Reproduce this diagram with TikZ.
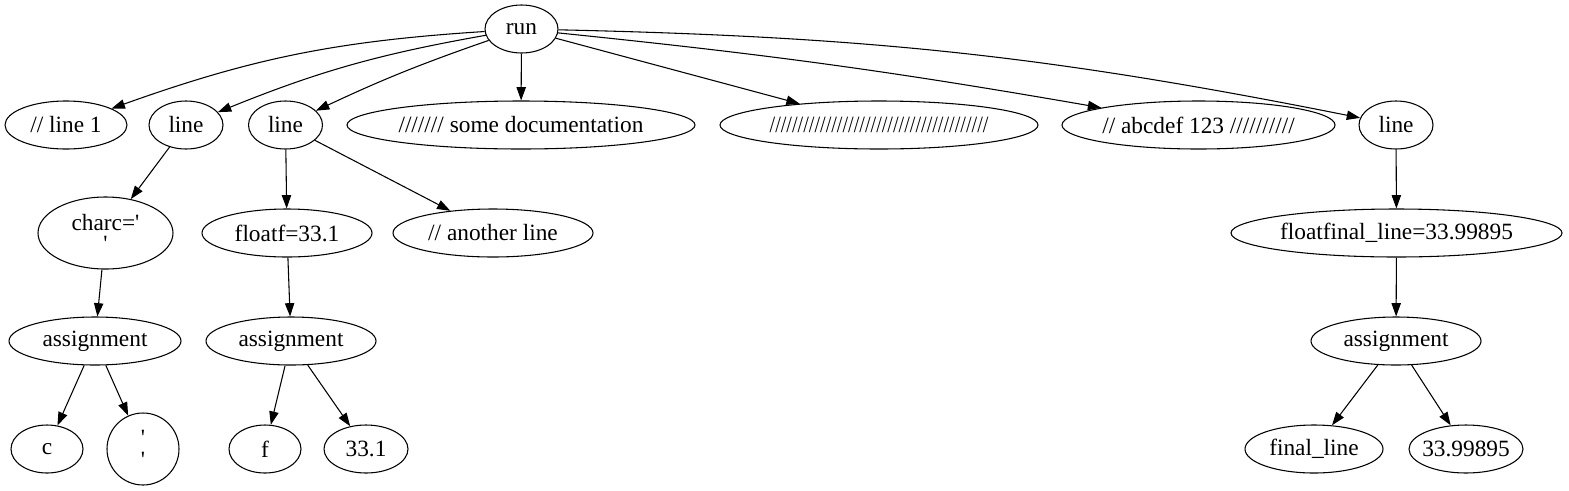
\documentclass[tikz,border=0pt]{standalone}
\usepackage{fontspec}
\usepackage{graphicx}
\newfontfamily\gvfont{Liberation Serif}
\usetikzlibrary{shapes.geometric,arrows.meta}
\tikzset{
  gv/.style={draw, ellipse, inner sep=0pt, line width=0.8pt},
  lbl/.style={font=\gvfont\fontsize{17.5}{16}\selectfont, align=center, inner sep=0pt},
  edge/.style={draw, line width=0.8pt, -{Triangle[length=10pt,width=7pt]}},
}
\newcommand\gvn[6]{\node[gv, minimum width=#4*1.5pt, minimum height=#5*1.5pt, label={[lbl]center:#6}] (#1) at (#2,#3) {};}
\begin{document}
\begin{tikzpicture}[x=0.75pt,y=-0.75pt]
\useasboundingbox (0,0) rectangle (1569,490);
\gvn{run}{521.5}{29}{36.5}{24}{run}
\gvn{lc}{66}{125}{61}{24}{// line 1}
\gvn{la}{186}{125}{37}{24}{line}
\gvn{lb}{285.5}{125}{37}{24}{line}
\gvn{doc}{521}{125}{174}{24}{/////// some documentation}
\gvn{sl}{879}{125}{159}{24}{\scalebox{0.865}[1]{///////////////////////////////////////}}
\gvn{abc}{1198.5}{125}{136.5}{24}{// abcdef 123 //////////}
\gvn{lcc}{1396}{125}{37}{24}{line}
\gvn{chr}{105.5}{233}{67.5}{36}{charc='\\'}
\gvn{ff}{287}{233}{85}{24}{floatf=33.1}
\gvn{an}{493}{233}{100}{24}{// another line}
\gvn{ffl}{1396.5}{233}{165.5}{24}{floatfinal\_line=33.99895}
\gvn{as1}{95}{341}{86}{24}{assignment}
\gvn{as2}{291}{341}{85}{24}{assignment}
\gvn{as3}{1396}{341}{85}{24}{assignment}
\gvn{c}{47}{449}{36}{24}{c}
\gvn{nl}{143}{449}{36}{36}{'\\'}
\gvn{f}{265}{449}{36}{24}{f}
\gvn{n331}{366}{449}{42}{24}{33.1}
\gvn{fl}{1314}{449}{69}{24}{final\_line}
\gvn{n339}{1466}{449}{57}{24}{33.99895}
\draw[edge] (run) to[bend right=8] (lc);
\draw[edge] (run) to[bend right=6] (la);
\draw[edge] (run) to[bend right=3] (lb);
\draw[edge] (run) -- (doc);
\draw[edge] (run) -- (sl);
\draw[edge] (run) to[bend left=2] (abc);
\draw[edge] (run) to[bend left=5] (lcc);
\draw[edge] (la) -- (chr);
\draw[edge] (lb) -- (ff);
\draw[edge] (lb) -- (an);
\draw[edge] (lcc) -- (ffl);
\draw[edge] (chr) -- (as1);
\draw[edge] (ff) -- (as2);
\draw[edge] (ffl) -- (as3);
\draw[edge] (as1) -- (c);
\draw[edge] (as1) -- (nl);
\draw[edge] (as2) -- (f);
\draw[edge] (as2) -- (n331);
\draw[edge] (as3) -- (fl);
\draw[edge] (as3) -- (n339);
\end{tikzpicture}
\end{document}
